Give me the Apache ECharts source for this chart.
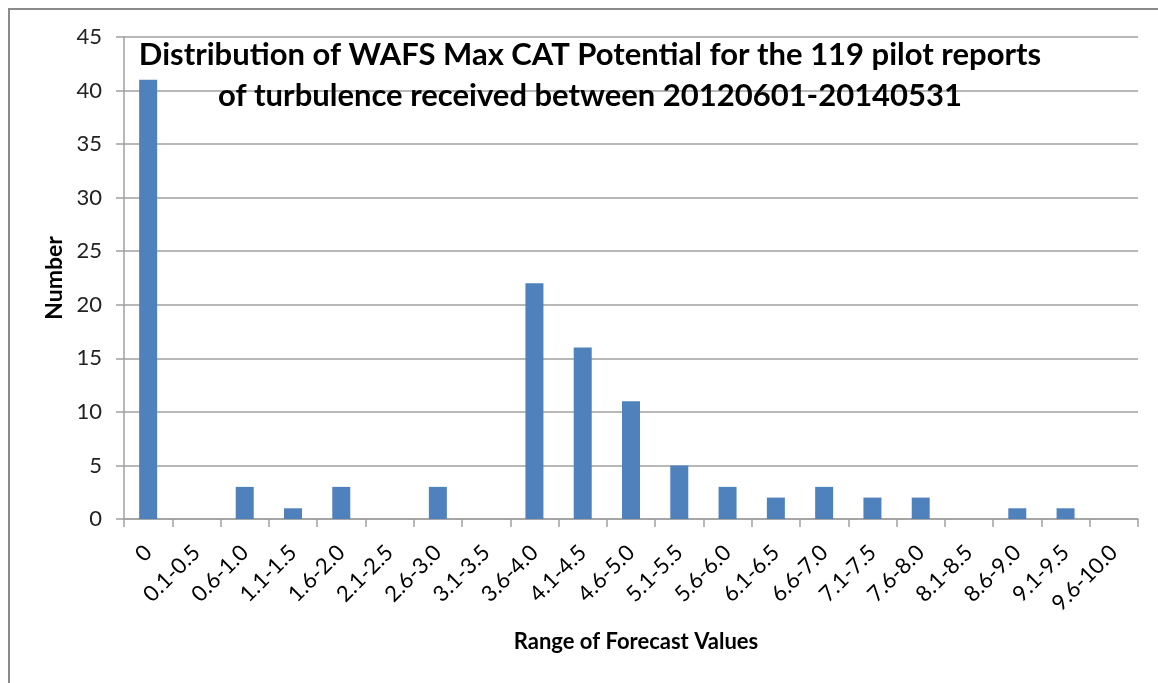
<!DOCTYPE html>
<html><head><meta charset="utf-8">
<script src="https://cdn.jsdelivr.net/npm/echarts@6/dist/echarts.min.js"></script>
<style>html,body{margin:0;padding:0;background:#fff}#c{width:1158px;height:683px}</style>
</head><body><div id="c"></div>
<script>
const categories = ['0','0.1-0.5','0.6-1.0','1.1-1.5','1.6-2.0','2.1-2.5','2.6-3.0','3.1-3.5','3.6-4.0','4.1-4.5','4.6-5.0','5.1-5.5','5.6-6.0','6.1-6.5','6.6-7.0','7.1-7.5','7.6-8.0','8.1-8.5','8.6-9.0','9.1-9.5','9.6-10.0'];
const counts = [41,0,3,1,3,0,3,0,22,16,11,5,3,2,3,2,2,0,1,1,0];
const titleText = 'Distribution of WAFS Max CAT Potential for the 119 pilot reports\nof turbulence received between 20120601-20140531';
const xName = 'Range of Forecast Values';
const yName = 'Number';

const F = 'Lato, "Open Sans", sans-serif';
const chart = echarts.init(document.getElementById('c'));
chart.setOption({
  animation: false,
  graphic: [{type:'rect', shape:{x:9,y:9,width:1300,height:900}, style:{fill:'none', stroke:'#8a8a8a', lineWidth:2}, z:-1}],
  title: {text: titleText, left: 585, top: 29, textAlign: 'center',
    textStyle: {fontFamily: F, fontSize: 31, fontWeight: 'bold', color: '#000', lineHeight: 41}},
  grid: {left: 124, right: 20, top: 37, bottom: 164, containLabel: false},
  xAxis: {type: 'category', data: categories,
    name: xName, nameLocation: 'middle', nameGap: 112,
    nameTextStyle: {fontFamily: F, fontSize: 22, fontWeight: 'bold', color: '#000', padding:[0,0,0,10]},
    axisLine: {lineStyle: {color: '#a0a0a0', width: 1.5}},
    axisTick: {show: true, length: 8, lineStyle: {color: '#a0a0a0', width: 1.5}},
    axisLabel: {rotate: 45, fontFamily: F, fontSize: 22, color: '#000', margin: 30, interval: 0}},
  yAxis: {type: 'value', min: 0, max: 45, interval: 5,
    name: yName, nameLocation: 'middle', nameGap: 56, nameRotate: 90,
    nameTextStyle: {fontFamily: F, fontSize: 23, fontWeight: 'bold', color: '#000'},
    axisLine: {show: true, lineStyle: {color: '#a0a0a0', width: 1.5}},
    axisTick: {show: true, length: 8, lineStyle: {color: '#a0a0a0', width: 1.5}},
    axisLabel: {fontFamily: F, fontSize: 22, color: '#222', margin: 22},
    splitLine: {lineStyle: {color: '#a0a0a0', width: 1.5}}},
  series: [{type: 'bar', data: counts, barWidth: 18,
    itemStyle: {color: '#4f81bd'}}]
});
</script></body></html>
